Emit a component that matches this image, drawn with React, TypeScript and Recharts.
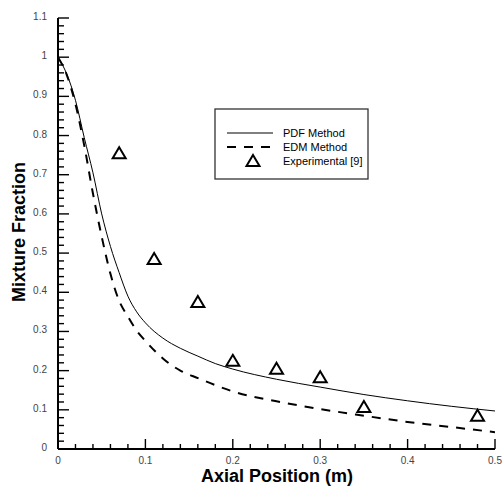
import React from 'react';
import { ComposedChart, Line, Scatter, XAxis, YAxis } from 'recharts';

const axialPosition = [0, 0.01, 0.02, 0.03, 0.04, 0.05, 0.06, 0.07, 0.08, 0.09, 0.1, 0.12, 0.14, 0.16, 0.18, 0.2, 0.25, 0.3, 0.35, 0.4, 0.45, 0.5];
const pdfMethod = [1.0, 0.957, 0.89, 0.795, 0.705, 0.6, 0.517, 0.45, 0.39, 0.35, 0.322, 0.283, 0.257, 0.237, 0.218, 0.204, 0.178, 0.158, 0.139, 0.123, 0.109, 0.097];
const edmMethod = [1.0, 0.955, 0.88, 0.775, 0.652, 0.542, 0.447, 0.378, 0.338, 0.302, 0.276, 0.231, 0.2, 0.181, 0.163, 0.147, 0.122, 0.102, 0.085, 0.069, 0.056, 0.043];

const expPosition = [0.07, 0.11, 0.16, 0.2, 0.25, 0.3, 0.35, 0.48];
const expFraction = [0.755, 0.485, 0.375, 0.225, 0.205, 0.183, 0.107, 0.085];

const seriesNames = ['PDF Method', 'EDM Method', 'Experimental [9]'];
const xMajorTicks = [0, 0.1, 0.2, 0.3, 0.4, 0.5];
const xTickLabels = ['0', '0.1', '0.2', '0.3', '0.4', '0.5'];
const yMajorTicks = [0, 0.1, 0.2, 0.3, 0.4, 0.5, 0.6, 0.7, 0.8, 0.9, 1, 1.1];
const yTickLabels = ['0', '0.1', '0.2', '0.3', '0.4', '0.5', '0.6', '0.7', '0.8', '0.9', '1', '1.1'];
const xTitle = 'Axial Position (m)';
const yTitle = 'Mixture Fraction';

const withMinor = (majors: number[]) => {
  const out: number[] = [];
  for (let i = 0; i < majors.length; i++) {
    out.push(majors[i]);
    if (i < majors.length - 1) {
      const step = (majors[i + 1] - majors[i]) / 5;
      for (let k = 1; k < 5; k++) out.push(Math.round((majors[i] + k * step) * 1000) / 1000);
    }
  }
  return out;
};
const xTicks = withMinor(xMajorTicks);
const yTicks = withMinor(yMajorTicks);

const majorIndex = (majors: number[], v: number) => majors.findIndex((m) => Math.abs(m - v) < 1e-6);

const lineData = axialPosition.map((x, i) => ({ x, pdf: pdfMethod[i], edm: edmMethod[i] }));
const expData = expPosition.map((x, i) => ({ x, y: expFraction[i] }));

const FONT = '"Liberation Sans", Arial, Helvetica, sans-serif';

const XTick = (props: any) => {
  const { x, y, payload } = props;
  const idx = majorIndex(xMajorTicks, payload.value);
  const major = idx >= 0;
  return (
    <g>
      <line x1={x} x2={x} y1={y} y2={y - (major ? 10 : 5)} stroke="#000" strokeWidth={1.4} />
      {major && (
        <text x={x} y={y + 15} textAnchor="middle" fontSize={10} fill="#444" fontFamily={FONT}>
          {xTickLabels[idx]}
        </text>
      )}
    </g>
  );
};

const YTick = (props: any) => {
  const { x, y, payload } = props;
  const idx = majorIndex(yMajorTicks, payload.value);
  const major = idx >= 0;
  return (
    <g>
      <line x1={x} x2={x + (major ? 11 : 6)} y1={y} y2={y} stroke="#000" strokeWidth={1.4} />
      {major && (
        <text x={x - 11} y={y + 2} textAnchor="end" fontSize={10} fill="#444" fontFamily={FONT}>
          {yTickLabels[idx]}
        </text>
      )}
    </g>
  );
};

const Triangle = (props: any) => {
  const { cx, cy } = props;
  if (cx == null || cy == null) return null;
  return (
    <path
      d={`M${cx},${cy - 6} L${cx + 6.5},${cy + 5} L${cx - 6.5},${cy + 5} Z`}
      fill="none"
      stroke="#000"
      strokeWidth={2}
      strokeLinejoin="miter"
    />
  );
};

export default function App() {
  return (
    <div style={{ position: 'absolute', left: 0, top: 0, width: 503, height: 488, background: '#fff' }}>
      <ComposedChart width={503} height={488} data={lineData} margin={{ top: 18, right: 8, bottom: 0, left: 0 }}>
        <XAxis
          dataKey="x"
          type="number"
          domain={[0, 0.5]}
          ticks={xTicks}
          interval={0}
          tickSize={0}
          tickMargin={0}
          tick={<XTick />}
          tickLine={false}
          axisLine={{ stroke: '#000', strokeWidth: 2 }}
          height={39}
          allowDataOverflow
        />
        <YAxis
          type="number"
          domain={[0, 1.1]}
          ticks={yTicks}
          interval={0}
          tickSize={0}
          tickMargin={0}
          tick={<YTick />}
          tickLine={false}
          axisLine={{ stroke: '#000', strokeWidth: 2 }}
          width={58}
          allowDataOverflow
        />
        <Line type="monotone" dataKey="pdf" stroke="#000" strokeWidth={1} dot={false} isAnimationActive={false} />
        <Line type="monotone" dataKey="edm" stroke="#000" strokeWidth={2} strokeDasharray="9 8" dot={false} isAnimationActive={false} />
        <Scatter data={expData} dataKey="y" shape={<Triangle />} isAnimationActive={false} />
      </ComposedChart>
      <svg width={503} height={488} style={{ position: 'absolute', left: 0, top: 0, pointerEvents: 'none' }}>
        <text x={277} y={482} textAnchor="middle" fontSize={18} fontWeight="bold" fontFamily={FONT} fill="#000">
          {xTitle}
        </text>
        <text
          x={0}
          y={0}
          transform="translate(25,232) rotate(-90)"
          textAnchor="middle"
          fontSize={18}
          fontWeight="bold"
          fontFamily={FONT}
          fill="#000"
        >
          {yTitle}
        </text>
        <rect x={215} y={109} width={153} height={70} fill="#fff" stroke="#333" strokeWidth={1.3} />
        <line x1={227} x2={273} y1={133} y2={133} stroke="#000" strokeWidth={1} />
        <line x1={227} x2={273} y1={147} y2={147} stroke="#000" strokeWidth={2} strokeDasharray="9 8" />
        <path d="M253,155 L259.5,166 L246.5,166 Z" fill="none" stroke="#000" strokeWidth={2} />
        <text x={283} y={137} fontSize={11} fontFamily={FONT} fill="#000">{seriesNames[0]}</text>
        <text x={283} y={151} fontSize={11} fontFamily={FONT} fill="#000">{seriesNames[1]}</text>
        <text x={283} y={165} fontSize={11} fontFamily={FONT} fill="#000">{seriesNames[2]}</text>
      </svg>
    </div>
  );
}
